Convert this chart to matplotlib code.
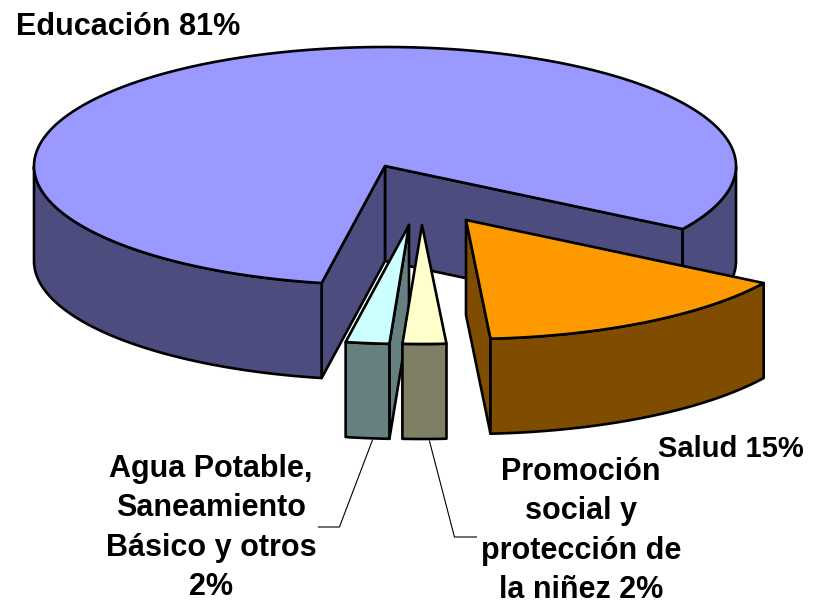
import numpy as np
import matplotlib.pyplot as plt
from matplotlib.patches import Polygon

# data
labels = ["Educación 81%", "Salud 15%",
          "Promoción\nsocial y\nprotección de\nla niñez 2%",
          "Agua Potable,\nSaneamiento\nBásico y otros\n2%"]
values = [81, 15, 2, 2]
top_colors = ["#9999FF", "#FF9900", "#FFFFCC", "#CCFFFF"]
side_colors = ["#4C4C7F", "#7F4C00", "#7F7F66", "#667F7F"]

# pie geometry (pixels)
cx, cy = 385, 166
A, B = 351, 119
depth = 95
start = 259.6
offsets = [(0, 0), (81, 54), (37, 59), (24, 59)]

fig = plt.figure(figsize=(8.17, 6.05), dpi=100)
ax = fig.add_axes([0, 0, 1, 1])
ax.set_xlim(0, 817)
ax.set_ylim(605, 0)
ax.axis("off")

lw = 1.9


def arc(x0, y0, t1, t2, n=120, dy=0):
    t = np.radians(np.linspace(t1, t2, n))
    return np.column_stack([x0 + A * np.cos(t), y0 - B * np.sin(t) + dy])


def poly(pts, fc):
    ax.add_patch(Polygon(pts, closed=True, facecolor=fc, edgecolor="black",
                         linewidth=lw, joinstyle="round"))


# slice angles (clockwise from start)
spans = []
cur = start
for v in values:
    t_hi = cur
    t_lo = cur - v / 100 * 360
    spans.append((t_lo, t_hi))
    cur = t_lo

centers = [(cx + dx, cy + dy) for dx, dy in offsets]

for i in [0, 3, 2, 1]:
    t_lo, t_hi = spans[i]
    x0, y0 = centers[i]
    side = side_colors[i]

    # radial cut faces
    for t, normal in [(t_lo, t_lo - 90), (t_hi, t_hi + 90)]:
        if np.sin(np.radians(normal)) < 0:
            px = x0 + A * np.cos(np.radians(t))
            py = y0 - B * np.sin(np.radians(t))
            poly([(x0, y0), (px, py), (px, py + depth), (x0, y0 + depth)], side)

    # outer wall, front part only
    ts = np.linspace(t_lo, t_hi, 600)
    front = np.sin(np.radians(ts)) <= 1e-9
    runs = []
    j = 0
    while j < len(ts):
        if front[j]:
            k = j
            while k + 1 < len(ts) and front[k + 1]:
                k += 1
            runs.append((ts[j], ts[k]))
            j = k + 1
        else:
            j += 1
    for a1, a2 in runs:
        if a2 - a1 < 0.5:
            continue
        topc = arc(x0, y0, a1, a2)
        botc = arc(x0, y0, a1, a2, dy=depth)[::-1]
        poly(np.vstack([topc, botc]), side)

    # top face
    poly(np.vstack([[(x0, y0)], arc(x0, y0, t_lo, t_hi, n=300)]), top_colors[i])

# leader lines
for i, (ex, hx) in zip([3, 2], [(-33, -21), (25, 22)]):
    t_lo, t_hi = spans[i]
    tm = np.radians((t_lo + t_hi) / 2)
    x0, y0 = centers[i]
    sx = x0 + A * np.cos(tm) + 5
    sy = y0 - B * np.sin(tm) + depth + 2
    ey = 527 if i == 3 else 537
    ax.plot([sx, sx + ex, sx + ex + hx], [sy, ey, ey], color="black", linewidth=0.8)

font = dict(family=["Liberation Sans", "DejaVu Sans"], fontweight="bold")
ax.text(16, 35, labels[0], ha="left", va="baseline", fontsize=22, **font)
ax.text(804, 457, labels[1], ha="right", va="baseline", fontsize=21, **font)
ax.text(581, 531, labels[2], ha="center", va="center", linespacing=1.40,
        fontsize=22, **font)
ax.text(211, 528, labels[3], ha="center", va="center", linespacing=1.42,
        fontsize=22, **font)

plt.savefig("out.png", dpi=100)
